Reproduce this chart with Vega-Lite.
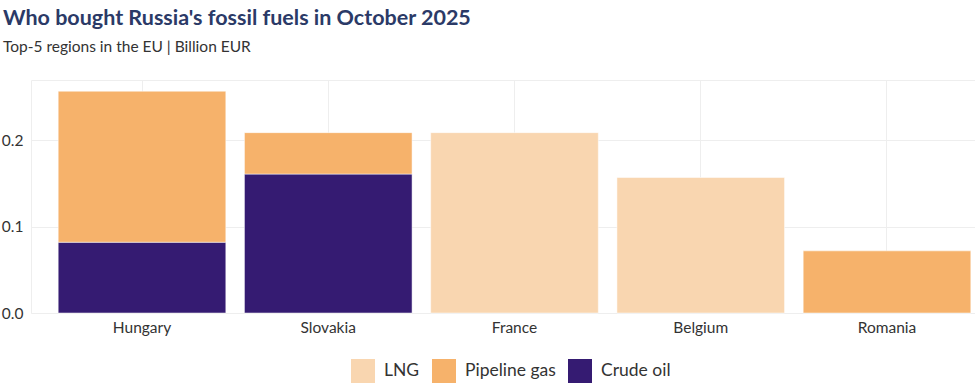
{
  "$schema": "https://vega.github.io/schema/vega-lite/v6.json",
  "width": 944,
  "height": 233,
  "autosize": {"type": "none"},
  "padding": {"left": 31, "top": 80, "right": 0, "bottom": 70},
  "background": "white",
  "title": {
    "text": "Who bought Russia's fossil fuels in October 2025",
    "subtitle": "Top-5 regions in the EU | Billion EUR",
    "anchor": "start",
    "frame": "group",
    "dx": -28,
    "font": "Lato",
    "fontSize": 21.5,
    "fontWeight": "bold",
    "color": "#2b3a67",
    "subtitleFont": "Lato",
    "subtitleFontSize": 15.5,
    "subtitleColor": "#333333",
    "subtitlePadding": 10,
    "offset": 25
  },
  "data": {
    "values": [
      {"region": "Hungary", "fuel": "Crude oil", "value": 0.082},
      {"region": "Hungary", "fuel": "Pipeline gas", "value": 0.175},
      {"region": "Slovakia", "fuel": "Crude oil", "value": 0.161},
      {"region": "Slovakia", "fuel": "Pipeline gas", "value": 0.048},
      {"region": "France", "fuel": "LNG", "value": 0.209},
      {"region": "Belgium", "fuel": "LNG", "value": 0.157},
      {"region": "Romania", "fuel": "Pipeline gas", "value": 0.072}
    ]
  },
  "transform": [
    {"calculate": "datum.fuel === 'Crude oil' ? 0 : datum.fuel === 'Pipeline gas' ? 1 : 2", "as": "ord"}
  ],
  "mark": {"type": "bar", "stroke": "white", "strokeWidth": 0.5},
  "encoding": {
    "x": {
      "field": "region",
      "type": "nominal",
      "sort": ["Hungary", "Slovakia", "France", "Belgium", "Romania"],
      "scale": {"range": [0, 967], "paddingInner": 0.1, "paddingOuter": 0.146},
      "axis": {
        "title": null,
        "labelAngle": 0,
        "ticks": false,
        "domain": false,
        "grid": true,
        "gridColor": "#eeeeee",
        "labelFont": "Lato",
        "labelFontSize": 15.5,
        "labelColor": "#333333",
        "labelPadding": 7
      }
    },
    "y": {
      "field": "value",
      "type": "quantitative",
      "stack": "zero",
      "scale": {"domain": [0, 0.27], "nice": false},
      "axis": {
        "title": null,
        "values": [0, 0.1, 0.2],
        "format": ".1f",
        "ticks": false,
        "domain": false,
        "gridColor": "#eeeeee",
        "labelFont": "Lato",
        "labelFontSize": 15.5,
        "labelColor": "#333333",
        "labelPadding": 8
      }
    },
    "color": {
      "field": "fuel",
      "type": "nominal",
      "scale": {
        "domain": ["LNG", "Pipeline gas", "Crude oil"],
        "range": ["#f9d6b0", "#f6b26b", "#351b72"]
      },
      "legend": {
        "title": null,
        "orient": "none",
        "direction": "horizontal",
        "legendX": 320,
        "legendY": 279,
        "symbolType": "square",
        "symbolSize": 576,
        "symbolStrokeWidth": 0,
        "labelFont": "Lato",
        "labelFontSize": 17.5,
        "labelColor": "#333333",
        "labelOffset": 9,
        "columnPadding": 12
      }
    },
    "order": {"field": "ord", "type": "quantitative"}
  },
  "config": {
    "view": {"stroke": "#eeeeee"}
  }
}
